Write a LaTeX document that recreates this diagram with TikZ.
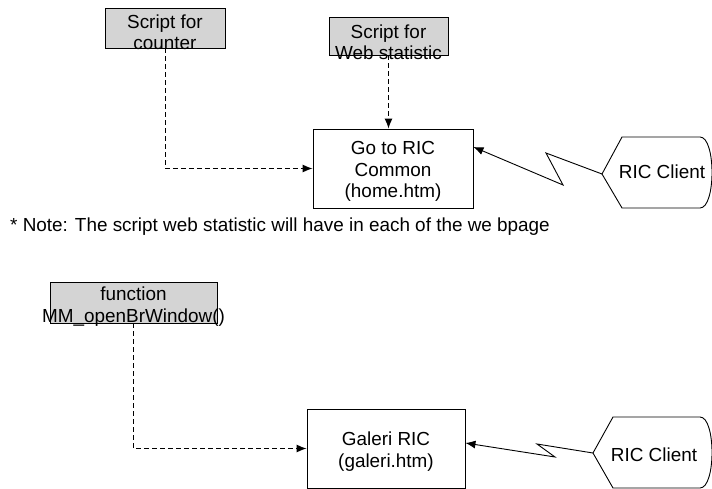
\documentclass[tikz,border=0pt]{standalone}
\usepackage{fontspec}
\setmainfont{Liberation Sans}
\usetikzlibrary{shapes, arrows.meta, positioning}
\definecolor{scriptgray}{RGB}{212,212,212}
\tikzstyle{block}=[draw,fill=white,rectangle,line width=0.9pt,inner sep=0pt]
\tikzstyle{script}=[block,fill=scriptgray]
\tikzstyle{txt}=[align=center,inner sep=0pt,font=\fontsize{18.9}{21.5}\selectfont]
\tikzstyle{dashline}=[line width=1pt,dash pattern=on 5pt off 3pt]
\tikzstyle{client}=[line width=0.9pt]

\begin{document}
\begin{tikzpicture}[x=1pt,y=-1pt,>={Latex[length=10pt,width=8pt]}]
  \useasboundingbox (0,0) rectangle (712,489);
  % upper part
  \node[script, minimum width=120, minimum height=40,
        label={[txt,yshift=-4pt]center:Script for\\counter}] (counter) at (165,28) {};
  \node[script, minimum width=119, minimum height=38,
        label={[txt,yshift=-6pt]center:Script for\\Web statistic}] (webstat) at (388.5,36) {};
  \node[block, minimum width=160, minimum height=79,
        label={[txt,yshift=-3pt]center:Go to RIC\\Common\\(home.htm)}] (home) at (393,168.5) {};
  \draw[client] (602,174) -- (622,137) -- (700,137)
    .. controls (716,137) and (716,208) .. (700,208)
    -- (622,208) -- cycle;
  \coordinate (cl1) at (602,174);
  \node[txt, anchor=base] (client1) at (662,179) {RIC Client};
  \draw[dashline,->] (counter.south) |- (home.west);
  \draw[dashline,->] (webstat.south) -- (webstat.south |- home.north);
  \draw[client,->] (cl1) -- (546,153) -- (563,185) -- (home.east |- 0,147);
  \node[txt, anchor=base west] (note) at (10,232)
    {* Note: The script web statistic will have in each of the we bpage};
  % lower part
  \node[script, minimum width=167, minimum height=41,
        label={[txt,yshift=-4pt]center:function\\MM\_openBrWindow()}] (func) at (133.5,302.5) {};
  \node[block, minimum width=158, minimum height=79,
        label={[txt,yshift=-3pt]center:Galeri RIC\\(galeri.htm)}] (galeri) at (386,448.5) {};
  \draw[client] (593,453) -- (613,417) -- (700,417)
    .. controls (716,417) and (716,488) .. (700,488)
    -- (613,488) -- cycle;
  \coordinate (cl2) at (593,453);
  \node[txt, anchor=base] (client2) at (654,461) {RIC Client};
  \draw[dashline,->] (func.south) |- (galeri.west);
  \draw[client,->] (cl2) -- (537,444) -- (555,457) -- (galeri.east |- 0,443);
\end{tikzpicture}
\end{document}
